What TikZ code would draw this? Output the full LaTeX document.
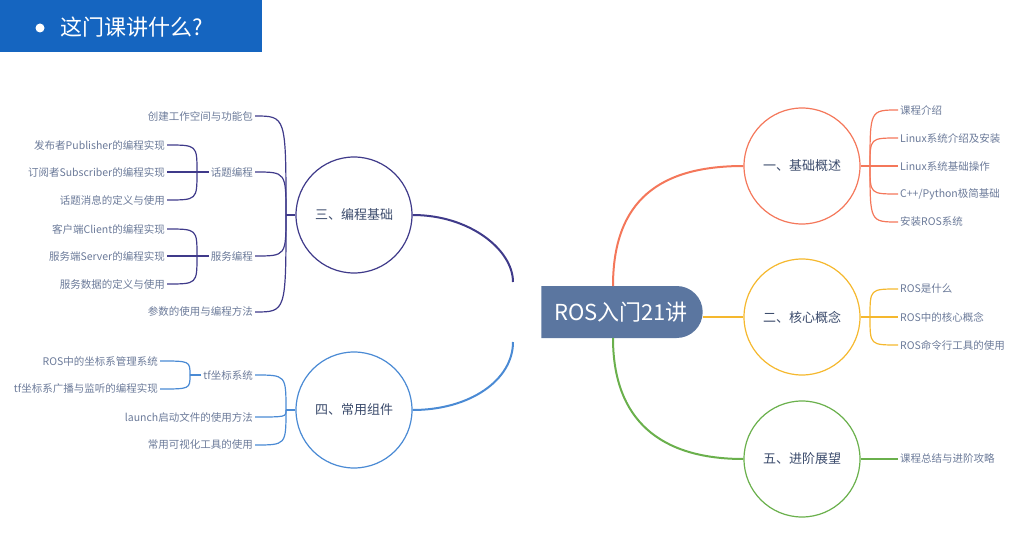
\documentclass[tikz,border=0pt]{standalone}
\usepackage{fontspec}
\setmainfont{Noto Sans CJK SC}
\usetikzlibrary{shapes.misc}
\definecolor{cOr}{HTML}{F4775A}
\definecolor{cYe}{HTML}{F5B82E}
\definecolor{cGr}{HTML}{6AB04C}
\definecolor{cPu}{HTML}{3F3A8A}
\definecolor{cBl}{HTML}{4A8AD4}
\definecolor{cTx}{HTML}{6B7A99}
\definecolor{cHd}{HTML}{3A4A6B}
\definecolor{cTitle}{HTML}{1565C0}
\definecolor{cCenter}{HTML}{5B76A0}
\tikzset{
  topic/.style={circle,draw,line width=1.2pt,minimum size=116pt,inner sep=0pt,font=\fontsize{13}{15}\selectfont,text=cHd},
  leafR/.style={anchor=west,inner sep=2pt,font=\fontsize{10.5}{12}\selectfont,text=cTx},
  leafL/.style={anchor=east,inner sep=2pt,font=\fontsize{10.5}{12}\selectfont,text=cTx},
  br/.style={line width=2pt},
  tw/.style={line width=1.2pt}
}
\begin{document}
\begin{tikzpicture}[x=1pt,y=-1pt]
\useasboundingbox (0,0) rectangle (1021,535);
% title
\fill[cTitle] (0,0) rectangle (262,52);
\fill[white] (40,28) circle (4.5);
\node[anchor=west,text=white,font=\fontsize{22}{24}\selectfont,inner sep=0pt] (title) at (60,27) {这门课讲什么?};
% center
\node[rounded rectangle,rounded rectangle left arc=none,fill=cCenter,minimum width=168pt,minimum height=52pt,text=white,font=\fontsize{22}{24}\selectfont] (c) at (621,312) {ROS入门21讲};
% topics
\node[topic,draw=cOr] (t1) at (802,166) {一、基础概述};
\node[topic,draw=cYe] (t2) at (802,317) {二、核心概念};
\node[topic,draw=cGr] (t5) at (802,459) {五、进阶展望};
\node[topic,draw=cPu] (t3) at (354,215) {三、编程基础};
\node[topic,draw=cBl] (t4) at (354,410) {四、常用组件};
\coordinate (cl1) at (513,282);
\coordinate (cl2) at (513,342);
% main branches
\draw[br,cOr] (613,286) .. controls (613,200) and (660,166) .. (t1.west);
\draw[br,cGr] (613,338) .. controls (613,420) and (660,459) .. (t5.west);
\draw[br,cYe] (c.east |- t2) -- (t2.west);
\draw[br,cPu] (t3.east) .. controls (470,215) and (513,250) .. (cl1);
\draw[br,cBl] (t4.east) .. controls (470,410) and (513,380) .. (cl2);
% right leaves orange
\node[leafR] (o1) at (898,110) {课程介绍};
\node[leafR] (o2) at (898,138) {Linux系统介绍及安装};
\node[leafR] (o3) at (898,166) {Linux系统基础操作};
\node[leafR] (o4) at (898,194) {C++/Python极简基础};
\node[leafR] (o5) at (898,222) {安装ROS系统};
\coordinate (fo) at (870,166);
\draw[tw,cOr] (t1.east) -- (fo);
\foreach \n in {o1,o2,o3,o4,o5}{\draw[tw,cOr] (fo) .. controls (fo |- \n.west) .. (\n.west);}
% yellow
\node[leafR] (y1) at (898,289) {ROS是什么};
\node[leafR] (y2) at (898,317) {ROS中的核心概念};
\node[leafR] (y3) at (898,345) {ROS命令行工具的使用};
\coordinate (fy) at (870,317);
\draw[tw,cYe] (t2.east) -- (fy);
\foreach \n in {y1,y2,y3}{\draw[tw,cYe] (fy) .. controls (fy |- \n.west) .. (\n.west);}
% green
\node[leafR] (g1) at (898,459) {课程总结与进阶攻略};
\draw[tw,cGr] (t5.east) -- (g1.west);
% purple
\node[leafL] (p1) at (255,116) {创建工作空间与功能包};
\node[leafL] (p2) at (255,172) {话题编程};
\node[leafL] (p3) at (255,256) {服务编程};
\node[leafL] (p4) at (255,312) {参数的使用与编程方法};
\coordinate (fp) at (286,215);
\draw[tw,cPu] (t3.west) -- (fp);
\foreach \n in {p1,p2,p3,p4}{\draw[tw,cPu] (fp) .. controls (fp |- \n.east) .. (\n.east);}
\node[leafL] (p21) at (167,145) {发布者Publisher的编程实现};
\node[leafL] (p22) at (167,172) {订阅者Subscriber的编程实现};
\node[leafL] (p23) at (167,200) {话题消息的定义与使用};
\coordinate (fp2) at (197,172);
\draw[tw,cPu] (p2.west) -- (fp2);
\foreach \n in {p21,p22,p23}{\draw[tw,cPu] (fp2) .. controls (fp2 |- \n.east) .. (\n.east);}
\node[leafL] (p31) at (167,229) {客户端Client的编程实现};
\node[leafL] (p32) at (167,256) {服务端Server的编程实现};
\node[leafL] (p33) at (167,284) {服务数据的定义与使用};
\coordinate (fp3) at (197,256);
\draw[tw,cPu] (p3.west) -- (fp3);
\foreach \n in {p31,p32,p33}{\draw[tw,cPu] (fp3) .. controls (fp3 |- \n.east) .. (\n.east);}
% blue
\node[leafL] (b1) at (255,375) {tf坐标系统};
\node[leafL] (b2) at (255,417) {launch启动文件的使用方法};
\node[leafL] (b3) at (255,445) {常用可视化工具的使用};
\coordinate (fb) at (286,410);
\draw[tw,cBl] (t4.west) -- (fb);
\foreach \n in {b1,b2,b3}{\draw[tw,cBl] (fb) .. controls (fb |- \n.east) .. (\n.east);}
\node[leafL] (b11) at (160,361) {ROS中的坐标系管理系统};
\node[leafL] (b12) at (160,389) {tf坐标系广播与监听的编程实现};
\coordinate (fb1) at (190,375);
\draw[tw,cBl] (b1.west) -- (fb1);
\foreach \n in {b11,b12}{\draw[tw,cBl] (fb1) .. controls (fb1 |- \n.east) .. (\n.east);}
\end{tikzpicture}
\end{document}
